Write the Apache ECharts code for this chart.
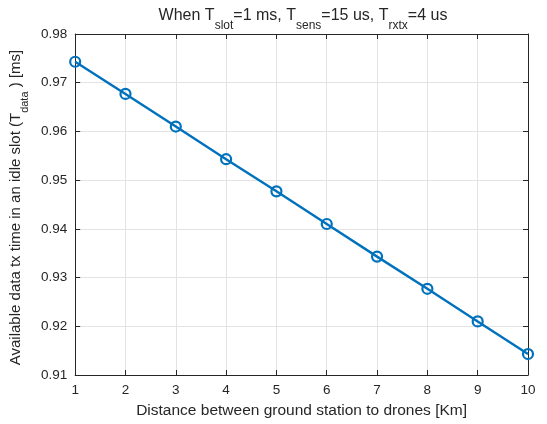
<!DOCTYPE html>
<html>
<head>
<meta charset="utf-8">
<script src="https://cdn.jsdelivr.net/npm/echarts@6/dist/echarts.min.js"></script>
<style>
  html, body { margin: 0; padding: 0; background: #fff; }
  #chart { width: 547px; height: 424px; }
</style>
</head>
<body>
<div id="chart"></div>
<script>
// Distance between ground station and drones [Km]
const distanceKm = [1, 2, 3, 4, 5, 6, 7, 8, 9, 10];
// Available data tx time in an idle slot [ms]
const dataTime = [0.9743, 0.9677, 0.9610, 0.9543, 0.9477, 0.9410, 0.9343, 0.9277, 0.9210, 0.9143];
// Axis ranges and tick steps
const xRange = [1, 10];
const xStep = 1;
const yRange = [0.91, 0.98];
const yStep = 0.01;

const FONT = '"Liberation Sans", Arial, Helvetica, sans-serif';
const INK = '#262626';
const BLUE = '#0072BD';
const GRID = '#e3e3e3';

// main text + subscript styles for rich labels
function richSub(main, sub, drop) {
  return {
    m: { fontFamily: FONT, fontSize: main, fontWeight: 'normal', lineHeight: main + 2, verticalAlign: 'top', color: INK },
    s: { fontFamily: FONT, fontSize: sub, fontWeight: 'normal', lineHeight: sub + 2, verticalAlign: 'top', padding: [drop, 0, 0, 0], color: INK }
  };
}

const chart = echarts.init(document.getElementById('chart'), null, { renderer: 'canvas' });

const frameAxis = {
  axisLine: { show: true, lineStyle: { color: INK, width: 1 } },
  axisTick: { show: true, inside: true, length: 5, lineStyle: { color: INK } },
  axisLabel: { show: false },
  splitLine: { show: false }
};

chart.setOption({
  animation: false,
  backgroundColor: '#fff',
  title: {
    text: '{m|When T}{s|slot}{m|=1 ms, T}{s|sens}{m|=15 us, T}{s|rxtx}{m|=4 us}',
    left: 303,
    top: 8,
    padding: 0,
    textAlign: 'center',
    textStyle: { fontWeight: 'normal', rich: richSub(16, 12, 12) }
  },
  grid: { left: 72, right: 19, top: 34, bottom: 45 },
  xAxis: [
    {
      type: 'value',
      min: xRange[0], max: xRange[1], interval: xStep,
      name: 'Distance between ground station to drones [Km]',
      nameLocation: 'middle',
      nameGap: 27,
      nameTextStyle: { fontFamily: FONT, fontSize: 15.5, color: INK, lineHeight: 17 },
      axisLine: { show: true, onZero: false, lineStyle: { color: INK, width: 1 } },
      axisTick: { show: true, inside: true, length: 5, lineStyle: { color: INK } },
      axisLabel: { fontFamily: FONT, fontSize: 13.5, color: INK, margin: 8 },
      splitLine: { show: true, lineStyle: { color: GRID, width: 1 } }
    },
    Object.assign({ type: 'value', position: 'top', min: xRange[0], max: xRange[1], interval: xStep }, frameAxis)
  ],
  yAxis: [
    {
      type: 'value',
      min: yRange[0], max: yRange[1], interval: yStep,
      name: '{m|Available data tx time in an idle slot (T}{s|data}{m| ) [ms]}',
      nameLocation: 'middle',
      nameGap: 37,
      nameTextStyle: { padding: [0, 6, 0, 0], rich: richSub(15, 11, 11) },
      axisLine: { show: true, onZero: false, lineStyle: { color: INK, width: 1 } },
      axisTick: { show: true, inside: true, length: 5, lineStyle: { color: INK } },
      axisLabel: {
        fontFamily: FONT, fontSize: 13.5, color: INK, margin: 8,
        formatter: v => v.toFixed(2)
      },
      splitLine: { show: true, lineStyle: { color: GRID, width: 1 } }
    },
    Object.assign({ type: 'value', position: 'right', min: yRange[0], max: yRange[1], interval: yStep }, frameAxis)
  ],
  series: [{
    type: 'line',
    data: distanceKm.map((d, i) => [d, dataTime[i]]),
    symbol: 'circle',
    symbolSize: 10,
    showAllSymbol: true,
    lineStyle: { color: BLUE, width: 2.4 },
    itemStyle: { color: 'rgba(0,0,0,0)', borderColor: BLUE, borderWidth: 2.2 },
    emphasis: { disabled: true },
    z: 3
  }]
});
</script>
</body>
</html>
